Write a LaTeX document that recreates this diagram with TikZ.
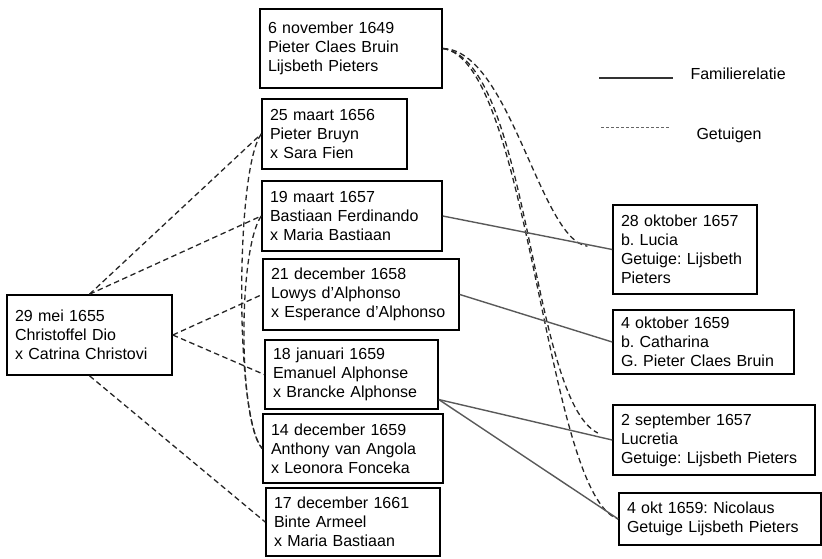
\documentclass[tikz,border=0pt]{standalone}
\usepackage{fontspec}
\setmainfont{Liberation Sans}
\usetikzlibrary{positioning,calc}
\frenchspacing

\tikzset{
    akte/.style={draw, line width=1.6pt, align=left, inner xsep=8pt, inner ysep=4pt,
        font=\fontsize{16}{19}\selectfont},
    getuige/.style={draw=black!85, line width=1.3pt, dash pattern=on 5.5pt off 3.5pt},
    familie/.style={draw=black!65, line width=1.4pt}
}

\begin{document}
\begin{tikzpicture}[x=1pt,y=1pt]
    \useasboundingbox (0,0) rectangle (822,-558);

    % middle column of acts
    \node[akte, text width=166pt, minimum height=79pt] (A) at (351,-48.5)
        {6 november 1649\\Pieter Claes Bruin\\Lijsbeth Pieters};
    \node[akte, text width=129pt, minimum height=70pt] (B) at (334.5,-134)
        {25 maart 1656\\Pieter Bruyn\\x Sara Fien};
    \node[akte, text width=164pt, minimum height=70pt] (C) at (352,-216)
        {19 maart 1657\\Bastiaan Ferdinando\\x Maria Bastiaan};
    \node[akte, text width=180pt, minimum height=71pt] (D) at (361,-294.5)
        {21 december 1658\\Lowys d’Alphonso\\x Esperance d’Alphonso};
    \node[akte, text width=157pt, minimum height=69pt] (E) at (351.5,-374.5)
        {18 januari 1659\\Emanuel Alphonse\\x Brancke Alphonse};
    \node[akte, text width=164pt, minimum height=69pt] (F) at (353,-448.5)
        {14 december 1659\\Anthony van Angola\\x Leonora Fonceka};
    \node[akte, text width=158pt, minimum height=68pt] (G) at (353,-522)
        {17 december 1661\\Binte Armeel\\x Maria Bastiaan};

    % left act
    \node[akte, text width=149pt, minimum height=80pt] (L) at (89.5,-335)
        {29 mei 1655\\Christoffel Dio\\x Catrina Christovi};

    % right column: baptisms
    \node[akte, text width=128pt, minimum height=89pt] (R1) at (685,-249.5)
        {28 oktober 1657\\b. Lucia\\Getuige: Lijsbeth\\Pieters};
    \node[akte, text width=165pt, minimum height=64pt] (R2) at (703.5,-342)
        {4 oktober 1659\\b. Catharina\\G. Pieter Claes Bruin};
    \node[akte, text width=186pt, minimum height=70pt] (R3) at (714,-440)
        {2 september 1657\\Lucretia\\Getuige: Lijsbeth Pieters};
    \node[akte, text width=186pt, minimum height=52pt] (R4) at (720,-519)
        {4 okt 1659: Nicolaus\\Getuige Lijsbeth Pieters};

    % legend
    \node[anchor=west, font=\fontsize{16}{19}\selectfont] (fam) at (687,-74) {Familierelatie};
    \node[anchor=west, font=\fontsize{16}{19}\selectfont] (get) at (693,-135) {Getuigen};
    \coordinate (famA) at (599,-78);
    \coordinate (famB) at (673,-78);
    \coordinate (getA) at (601,-127);
    \coordinate (getB) at (670,-127);
    \draw[black!80, line width=1.2pt] (famA) -- (famB);
    \draw[black!60, line width=0.9pt, dash pattern=on 3pt off 2pt] (getA) -- (getB);

    % witnesses from the left act
    \draw[getuige] (L.north) -- (B.west);
    \draw[getuige] (L.north) -- (C.west);
    \draw[getuige] (L.east) -- (D.west);
    \draw[getuige] (L.east) -- (E.west);
    \draw[getuige] (L.south) -- (G.west);

    % witnesses bending down to 1659
    \draw[getuige] (B.west) .. controls (235,-170) and (235,-420) .. (F.west);
    \draw[getuige] (C.west) .. controls (238,-250) and (238,-420) .. (F.west);

    % witnesses of 1649 at the baptisms
    \draw[getuige, shorten >=25pt] (A.east) .. controls (510,-50) and (540,-240) .. (R1.west);
    \draw[getuige, shorten >=16pt] (A.east) .. controls (530,-60) and (530,-400) .. (R3.west);
    \draw[getuige] (A.east) .. controls (530,-60) and (545,-495) .. (R4.west);

    % family relations
    \draw[familie] (C.east) -- (R1.west);
    \draw[familie] (D.east) -- (R2.west);
    \draw[familie] (E.-16) -- (R3.west);
    \draw[familie] (E.-16) -- (R4.west);
\end{tikzpicture}
\end{document}
